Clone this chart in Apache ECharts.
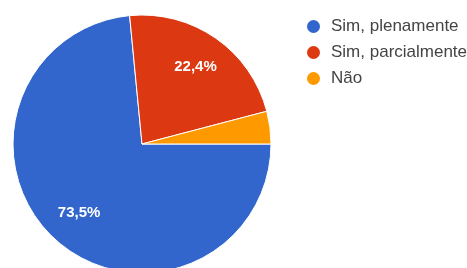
<!DOCTYPE html>
<html>
<head>
<meta charset="utf-8">
<script src="https://cdn.jsdelivr.net/npm/echarts@6/dist/echarts.min.js"></script>
<style>
html,body{margin:0;padding:0;background:#fff;}
#chart{width:467px;height:268px;}
</style>
</head>
<body>
<div id="chart"></div>
<script>
var categories = ['Sim, plenamente', 'Sim, parcialmente', 'Não'];
var counts = [36, 11, 2];
var colors = ['#3366cc', '#dc3912', '#ff9900'];

var pieData = categories.map(function (c, i) {
  return { name: c, value: counts[i], itemStyle: { color: colors[i] } };
});
var labelData = categories.map(function (c, i) {
  return { name: c, value: counts[i] };
});

function fmt(p) {
  if (p.percent < 5) return '';
  return p.percent.toFixed(1).replace('.', ',') + '%';
}

var chart = echarts.init(document.getElementById('chart'), null, { renderer: 'canvas' });
chart.setOption({
  animation: false,
  color: colors,
  legend: {
    orient: 'vertical',
    left: 300,
    top: 13,
    icon: 'circle',
    itemWidth: 15,
    itemHeight: 15,
    itemGap: 9,
    data: categories,
    textStyle: {
      fontFamily: 'Liberation Sans, Arial, sans-serif',
      fontSize: 17,
      color: '#444444',
      padding: [0, 0, 0, 5]
    }
  },
  series: [
    {
      type: 'pie',
      center: [142, 144],
      radius: 129,
      startAngle: 0,
      clockwise: true,
      silent: true,
      label: { show: false },
      labelLine: { show: false },
      itemStyle: { borderColor: '#ffffff', borderWidth: 1 },
      data: pieData
    },
    {
      type: 'pie',
      center: [142, 144],
      radius: [52, 129],
      startAngle: 0,
      clockwise: true,
      silent: true,
      legendHoverLink: false,
      itemStyle: { color: 'rgba(0,0,0,0)', borderWidth: 0 },
      label: {
        show: true,
        position: 'inside',
        formatter: fmt,
        color: '#ffffff',
        fontFamily: 'Liberation Sans, Arial, sans-serif',
        fontSize: 15,
        fontWeight: 'bold'
      },
      labelLine: { show: false },
      data: labelData
    }
  ]
});
</script>
</body>
</html>
